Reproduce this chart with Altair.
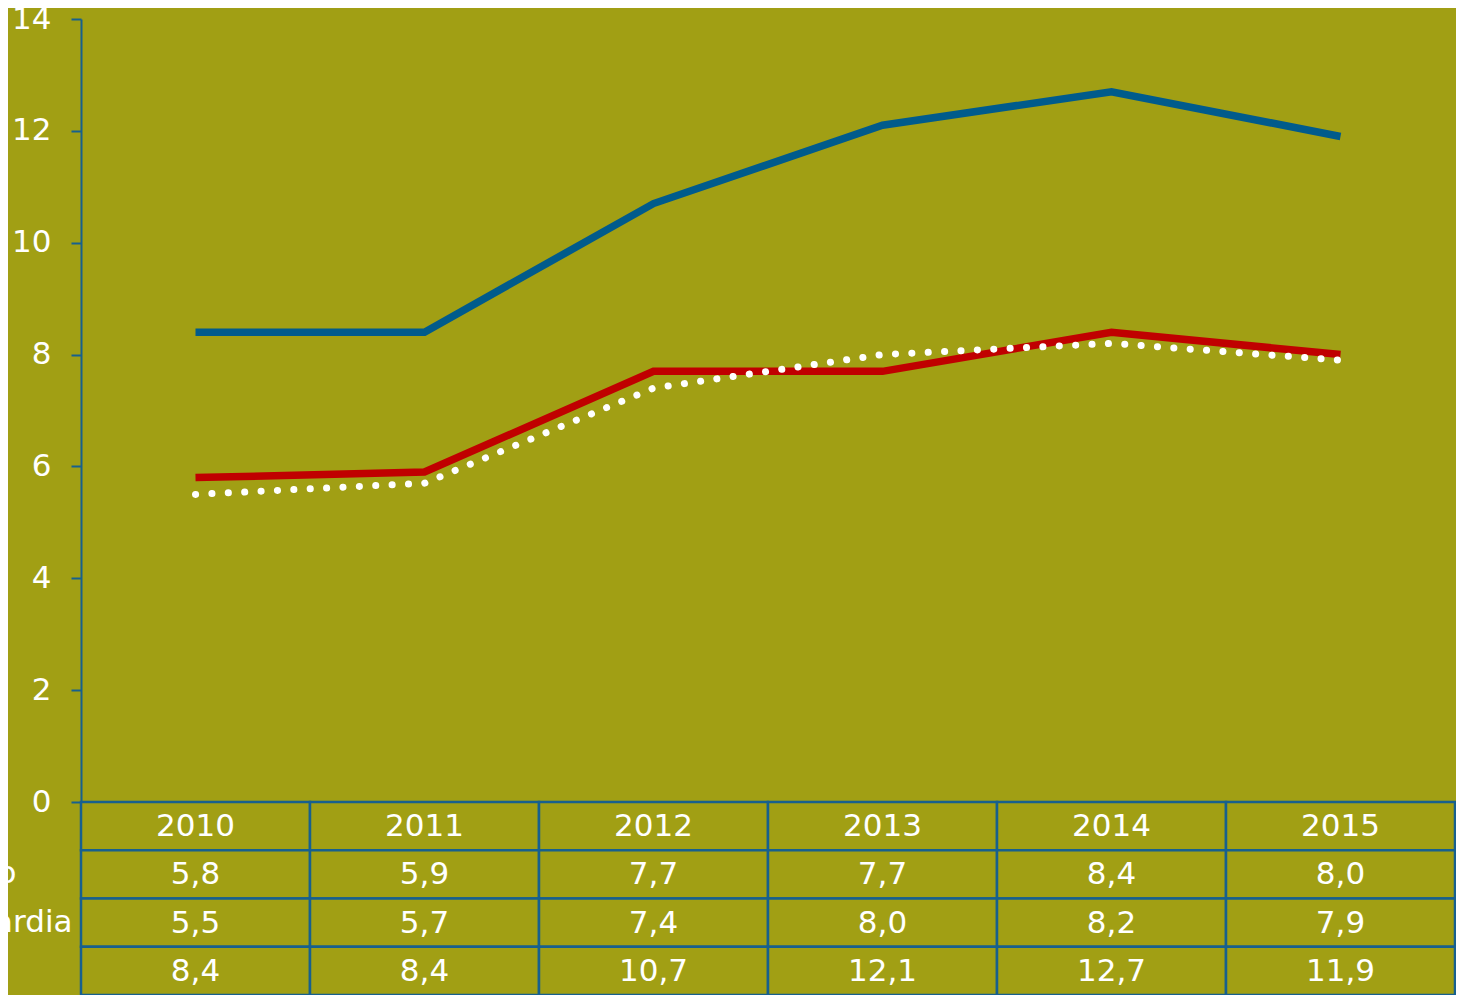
import altair as alt
import pandas as pd

years = ["2010", "2011", "2012", "2013", "2014", "2015"]
row_labels = ["o", "ardia", ""]
red_values = [5.8, 5.9, 7.7, 7.7, 8.4, 8.0]
white_values = [5.5, 5.7, 7.4, 8.0, 8.2, 7.9]
blue_values = [8.4, 8.4, 10.7, 12.1, 12.7, 11.9]
y_ticks = [0, 2, 4, 6, 8, 10, 12, 14]

BG = "#A19F14"
GRID = "#17608E"
FONT = "DejaVu Sans"
FS = 31
W = 1374

series = [("blue", blue_values), ("white", white_values), ("red", red_values)]
rows = []
for name, vals in series:
    for yr, v in zip(years, vals):
        rows.append({"year": yr, "value": v, "series": name})
lines_df = pd.DataFrame(rows)

x_pt = alt.X("year:N", sort=years, axis=None,
             scale=alt.Scale(type="point", domain=years, padding=0.5))
y_val = alt.Y("value:Q",
              scale=alt.Scale(domain=[0, 14], nice=False, zero=True),
              axis=alt.Axis(values=y_ticks, title=None, grid=False,
                            domainColor=GRID, domainWidth=2,
                            tickColor=GRID, tickWidth=2, tickSize=10,
                            labelColor="white", labelFont=FONT, labelFontSize=FS,
                            labelPadding=20, labelBaseline="middle"))

base = alt.Chart(lines_df).encode(x=x_pt, y=y_val)
blue = base.transform_filter(alt.datum.series == "blue").mark_line(
    color="#005B8C", strokeWidth=7.5)
red = base.transform_filter(alt.datum.series == "red").mark_line(
    color="#C00000", strokeWidth=7.5)
white = base.transform_filter(alt.datum.series == "white").mark_line(
    color="white", strokeWidth=7, strokeDash=[0.1, 16.3], strokeCap="round")

top = alt.layer(blue, red, white).properties(width=W, height=783)

# table
trows = []
for yr in years:
    trows.append({"year": yr, "row": "hdr", "text": yr})
for lbl, vals in zip(row_labels, [red_values, white_values, blue_values]):
    for yr, v in zip(years, vals):
        trows.append({"year": yr, "row": lbl if lbl else " ", "text": f"{v:.1f}".replace(".", ",")})
table_df = pd.DataFrame(trows)
row_domain = ["hdr"] + [l if l else " " for l in row_labels]

x_band = alt.X("year:N", sort=years, axis=None,
               scale=alt.Scale(type="band", domain=years, paddingInner=0, paddingOuter=0))
y_band = alt.Y("row:N", sort=row_domain,
               scale=alt.Scale(type="band", domain=row_domain, paddingInner=0, paddingOuter=0),
               axis=alt.Axis(title=None, domain=False, ticks=False,
                             labelColor="white", labelFont=FONT, labelFontSize=FS,
                             labelPadding={"condition": {"test": "datum.value == 'o'", "value": 65},
                                           "value": 9},
                             labelExpr="datum.value == 'hdr' ? '' : datum.value"))

tbase = alt.Chart(table_df).encode(x=x_band, y=y_band)
cells = tbase.mark_rect(fill=BG, stroke=GRID, strokeWidth=2.5)
texts = tbase.mark_text(color="white", font=FONT, fontSize=FS, baseline="middle", dy=1).encode(
    text="text:N")
table = alt.layer(cells, texts).properties(width=W, height=193)

chart = alt.vconcat(top, table, spacing=0, bounds="flush").properties(
    background=BG,
    autosize=alt.AutoSizeParams(type="none"),
    padding={"left": 73, "top": 11, "right": 1, "bottom": 976},
).configure_view(stroke=None).configure_concat(spacing=0)

chart.save("out.html", embed_options={"renderer": "svg", "actions": False})
